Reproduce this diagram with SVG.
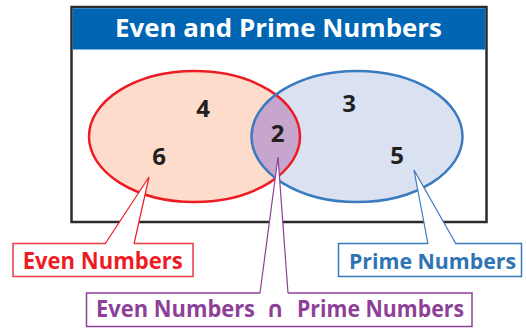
<svg xmlns="http://www.w3.org/2000/svg" width="526" height="329" viewBox="0 0 526 329">
<style>
text{font-family:"Open Sans","Liberation Sans",sans-serif;font-weight:bold}
.num{font-size:24px;fill:#231f20;text-anchor:middle}
.lbl{font-size:23px}
.cap{font-family:"DejaVu Sans",sans-serif;font-weight:bold}
.wedge{fill:#fff;stroke:none}
</style>
<defs>
<clipPath id="clipRed"><ellipse cx="194.5" cy="136.5" rx="105.5" ry="65.5"/></clipPath>
</defs>
<rect width="526" height="329" fill="#fff"/>
<g id="frame">
<rect x="71.5" y="7" width="415" height="215" fill="#fff" stroke="#2b2b2b" stroke-width="2.5"/>
<rect x="72.8" y="8.3" width="412.4" height="41.2" fill="#0066b3"/>
<text x="278.5" y="37" font-size="24.5" fill="#fff" text-anchor="middle" textLength="327" lengthAdjust="spacingAndGlyphs">Even and Prime Numbers</text>
</g>
<g id="sets">
<ellipse cx="194.5" cy="136.5" rx="105.5" ry="65.5" fill="#fddccc"/>
<ellipse cx="357" cy="136.5" rx="105.5" ry="65.5" fill="#dae1f1"/>
<ellipse cx="357" cy="136.5" rx="105.5" ry="65.5" fill="#c6a6cd" clip-path="url(#clipRed)"/>
<ellipse cx="194.5" cy="136.5" rx="105.5" ry="65.5" fill="none" stroke="#ed1c24" stroke-width="2.5"/>
<ellipse cx="357" cy="136.5" rx="105.5" ry="65.5" fill="none" stroke="#3a7abf" stroke-width="2.5"/>
</g>
<g id="elements">
<text class="num" x="203" y="117">4</text>
<text class="num" x="349" y="112">3</text>
<text class="num" x="277.5" y="142">2</text>
<text class="num" x="159" y="165">6</text>
<text class="num" x="397" y="164">5</text>
</g>
<g id="label-even">
<rect x="13" y="243.5" width="180" height="33" fill="#fff" stroke="#ed3a45" stroke-width="1.5"/>
<text class="lbl" x="102.7" y="269.3" fill="#ed1c24" text-anchor="middle" textLength="160" lengthAdjust="spacingAndGlyphs">Even Numbers</text>
</g>
<g id="label-prime">
<rect x="338.5" y="243.5" width="183" height="33" fill="#fff" stroke="#3a7abf" stroke-width="1.5"/>
<text x="349" y="269.3" font-size="21.5" fill="#2e74b5" textLength="167" lengthAdjust="spacingAndGlyphs">Prime Numbers</text>
</g>
<g id="label-intersection">
<rect x="86.5" y="293" width="385.5" height="33.5" fill="#fff" stroke="#8e3f98" stroke-width="1.5"/>
<text class="lbl" x="96" y="317" fill="#8e3f98" textLength="159" lengthAdjust="spacingAndGlyphs">Even Numbers</text>
<text class="lbl cap" x="275" y="317" fill="#8e3f98" text-anchor="middle">∩</text>
<text class="lbl" x="297" y="317" fill="#8e3f98" textLength="167" lengthAdjust="spacingAndGlyphs">Prime Numbers</text>
</g>
<g id="connectors" fill="none" stroke-width="1.2">
<polygon class="wedge" points="149,177 105,245 134,245"/>
<polyline points="105,244 149,177 134,244" stroke="#ed1c24"/>
<polygon class="wedge" points="278,157 260,294 288,294"/>
<polyline points="260,293 278,157 288,293" stroke="#8e3f98"/>
<polygon class="wedge" points="414,170 428,245 456,245"/>
<polyline points="428,244 414,170 456,244" stroke="#3a7abf"/>
</g>
</svg>
